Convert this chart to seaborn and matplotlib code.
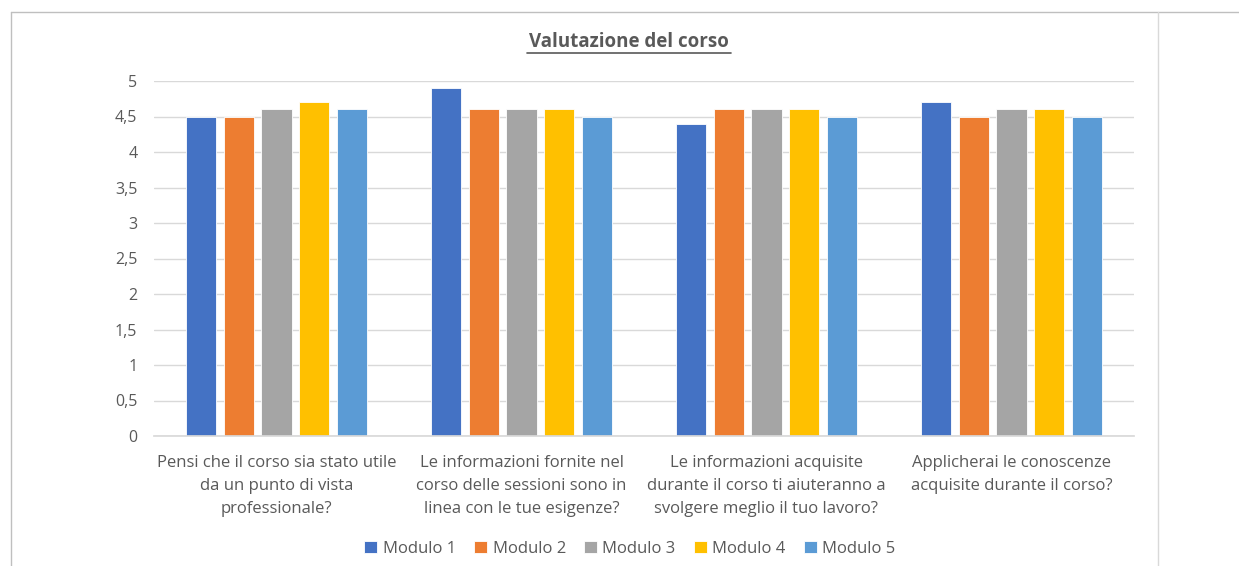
import matplotlib
matplotlib.use("Agg")
import matplotlib.pyplot as plt
import seaborn as sns
import pandas as pd
from matplotlib.lines import Line2D
from matplotlib.ticker import FuncFormatter

categories = [
    "Pensi che il corso sia stato utile\nda un punto di vista\nprofessionale?",
    "Le informazioni fornite nel\ncorso delle sessioni sono in\nlinea con le tue esigenze?",
    "Le informazioni acquisite\ndurante il corso ti aiuteranno a\nsvolgere meglio il tuo lavoro?",
    "Applicherai le conoscenze\nacquisite durante il corso?",
]
series = ["Modulo 1", "Modulo 2", "Modulo 3", "Modulo 4", "Modulo 5"]
modulo1 = [4.5, 4.9, 4.4, 4.7]
modulo2 = [4.5, 4.6, 4.6, 4.5]
modulo3 = [4.6, 4.6, 4.6, 4.6]
modulo4 = [4.7, 4.6, 4.6, 4.6]
modulo5 = [4.6, 4.5, 4.5, 4.5]
colors = ["#4472C4", "#ED7D31", "#A5A5A5", "#FFC000", "#5B9BD5"]

rows = []
for name, vals in zip(series, [modulo1, modulo2, modulo3, modulo4, modulo5]):
    for c, v in zip(categories, vals):
        rows.append({"Domanda": c, "Modulo": name, "Valore": v})
df = pd.DataFrame(rows)

sns.set_theme(style="white")
plt.rcParams["font.family"] = ["Open Sans", "DejaVu Sans"]
txt = "#595959"

fig = plt.figure(figsize=(12.39, 5.66), dpi=100)
ax = fig.add_axes([154/1239, 1-436/566, (1134-154)/1239, (436-81)/566])
sns.barplot(data=df, x="Domanda", y="Valore", hue="Modulo", order=categories,
            hue_order=series, palette=colors, width=0.77, gap=0.2,
            saturation=1, ax=ax, legend=True, edgecolor="white", linewidth=0.6)

ax.set_ylim(0, 5)
ax.set_yticks([i * 0.5 for i in range(11)])
ax.yaxis.set_major_formatter(FuncFormatter(lambda v, p: f"{v:g}".replace(".", ",")))
ax.set_xlim(-0.5, 3.5)
ax.grid(axis="y", color="#d9d9d9", linewidth=1)
ax.set_axisbelow(True)
for s in ["top", "right", "left"]:
    ax.spines[s].set_visible(False)
ax.spines["bottom"].set_color("#d9d9d9")
ax.set_xlabel("")
ax.set_ylabel("")
ax.tick_params(axis="both", length=0, colors=txt)
ax.tick_params(axis="y", pad=12, labelsize=11.5)
ax.tick_params(axis="x", pad=14, labelsize=12)
for lbl in ax.get_xticklabels():
    lbl.set_linespacing(1.55)

handles, labels = ax.get_legend_handles_labels()
ax.legend_.remove()
fig.legend(handles, labels, loc="center", bbox_to_anchor=(630/1239, 1-549/566),
           ncol=5, frameon=False, fontsize=12, labelcolor=txt,
           handlelength=0.75, handleheight=0.75, handletextpad=0.35, columnspacing=1.1)

fig.text(629/1239, 1-42/566, "Valutazione del corso", ha="center", va="center",
         fontsize=13.5, fontweight="bold", color=txt)
# underline
fig.add_artist(Line2D([527/1239, 731/1239], [1-53/566, 1-53/566], color=txt, linewidth=1.2))

# frame lines
border = "#bfbfbf"
fig.add_artist(Line2D([11/1239, 1.0], [1-12/566, 1-12/566], color=border, linewidth=1))
fig.add_artist(Line2D([11/1239, 11/1239], [0, 1-12/566], color=border, linewidth=1))
fig.add_artist(Line2D([1158/1239, 1158/1239], [0, 1-12/566], color="#d9d9d9", linewidth=1))

fig.savefig("out.png", dpi=100, facecolor="white")
